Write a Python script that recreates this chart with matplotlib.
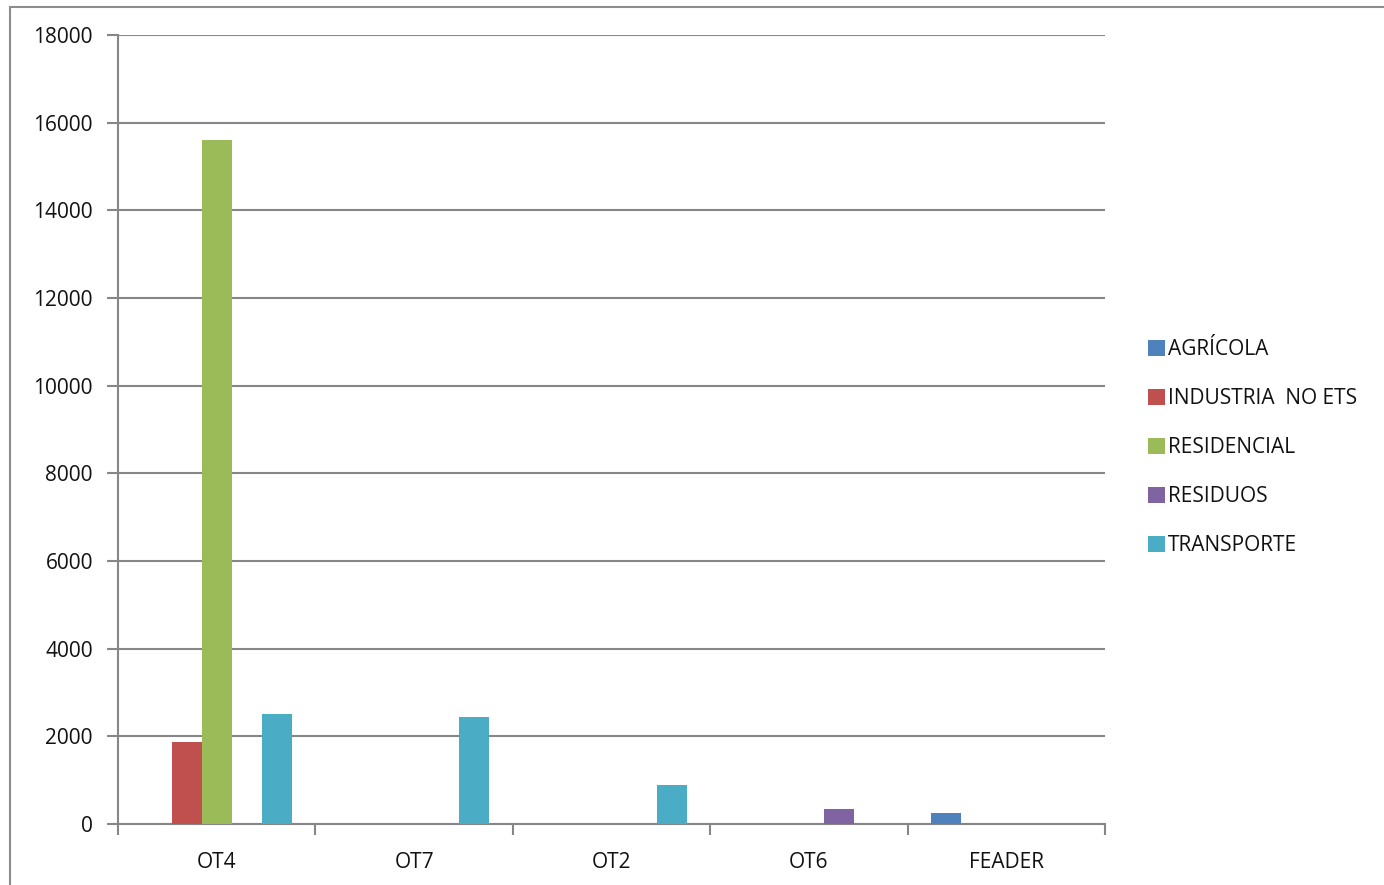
import matplotlib
matplotlib.use("Agg")
import matplotlib.pyplot as plt
import numpy as np
from matplotlib.patches import Rectangle

# Categories and series
categories = ["OT4", "OT7", "OT2", "OT6", "FEADER"]
series_names = ["AGRÍCOLA", "INDUSTRIA  NO ETS", "RESIDENCIAL", "RESIDUOS", "TRANSPORTE"]
agricola = [0, 0, 0, 0, 260]
industria = [1860, 0, 0, 0, 0]
residencial = [15600, 0, 0, 0, 0]
residuos = [0, 0, 0, 350, 0]
transporte = [2500, 2450, 900, 0, 0]
y_ticks = [0, 2000, 4000, 6000, 8000, 10000, 12000, 14000, 16000, 18000]

colors = ["#4F81BD", "#C0504D", "#9BBB59", "#8064A2", "#4BACC6"]
values = [agricola, industria, residencial, residuos, transporte]

plt.rcParams['font.family'] = ['Open Sans', 'DejaVu Sans']
txt_color = "#111111"

W, H = 1384, 885
fig = plt.figure(figsize=(W / 100, H / 100), dpi=100)
ax = fig.add_axes([118 / W, (H - 824) / H, (1105 - 118) / W, (824 - 35) / H])

# outer chart frame
fig.patches.append(Rectangle((10 / W, -0.1), 1.2, (H - 7) / H + 0.1,
                             transform=fig.transFigure, fill=False,
                             edgecolor="#8c8c8c", linewidth=1.5))

x = np.arange(len(categories))
bw = 0.152
for i, (name, vals) in enumerate(zip(series_names, values)):
    ax.bar(x + (i - 2) * bw, vals, width=bw, color=colors[i], label=name, zorder=3)

ax.set_xlim(-0.5, len(categories) - 0.5)
ax.set_ylim(0, 18000)
ax.set_yticks(y_ticks)
ax.set_yticklabels([str(v) for v in y_ticks], fontsize=15, color=txt_color)
ax.set_xticks(x)
ax.set_xticklabels(categories, fontsize=15, color=txt_color)
ax.set_xticks(np.arange(-0.5, len(categories)), minor=True)
ax.tick_params(axis="x", which="major", length=0, pad=20)
ax.tick_params(axis="x", which="minor", length=8, width=1.5, color="#868686", direction="out")
ax.tick_params(axis="y", length=8, width=1.5, color="#868686", direction="out", pad=10)

ax.grid(axis="y", color="#868686", linewidth=1.5, zorder=0)
for s in ["top", "right"]:
    ax.spines[s].set_visible(False)
for s in ["left", "bottom"]:
    ax.spines[s].set_color("#868686")
    ax.spines[s].set_linewidth(1.5)

leg = ax.legend(loc="center left", bbox_to_anchor=(1.035, 0.477), frameon=False,
                fontsize=15, handlelength=0.8, handleheight=0.8, handletextpad=0.15,
                labelspacing=1.35, borderaxespad=0)
for t in leg.get_texts():
    t.set_color(txt_color)

fig.savefig("out.png", dpi=100)
